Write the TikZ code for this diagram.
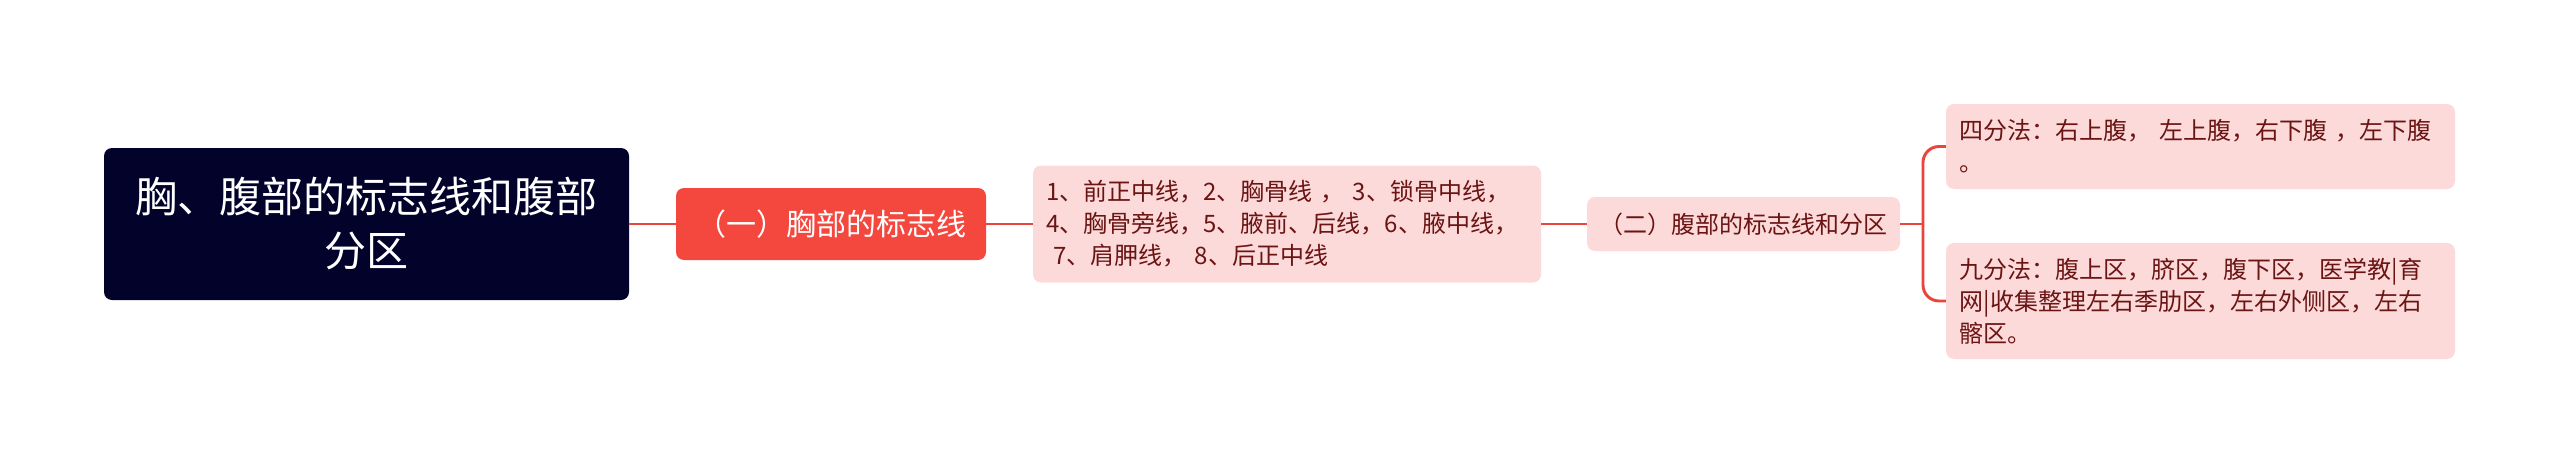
\documentclass[tikz,border=0pt]{standalone}
\usepackage{fontspec}
\setmainfont{Noto Sans CJK SC}
\usepackage{tikz}
\usetikzlibrary{positioning}
\definecolor{rootfill}{HTML}{03022B}
\definecolor{redfill}{HTML}{F4473E}
\definecolor{pinkfill}{HTML}{FDDADA}
\definecolor{linkred}{HTML}{E8453C}
\definecolor{leaftext}{HTML}{6B1414}
\tikzset{
  rootbox/.style={fill=rootfill, text=white, rounded corners=6pt, align=center,
    inner sep=0pt, font=\fontsize{31.5}{40.5}\selectfont},
  redbox/.style={fill=redfill, text=white, rounded corners=6pt, align=center,
    inner sep=0pt, font=\fontsize{22.5}{28}\selectfont},
  pinkbox/.style={fill=pinkfill, text=leaftext, rounded corners=6pt, align=left,
    inner sep=0pt, font=\fontsize{18}{24}\selectfont},
  link/.style={draw=linkred, line width=2.2pt}
}
\begin{document}
\begin{tikzpicture}[x=0.75pt, y=-0.75pt]
		\useasboundingbox (0,0) rectangle (2560,464);
		\node[rootbox, minimum width=393.75pt, minimum height=114pt] (root) at (366.5,224) {胸、腹部的标志线和腹部\\分区};
		\node[redbox, minimum width=232.5pt, minimum height=54pt] (chest) at (831,224) {（一）胸部的标志线};
		\node[pinkbox, minimum width=381pt, minimum height=87.75pt, text width=361pt] (lines) at (1287,224) {1、前正中线，2、胸骨线 ， 3、锁骨中线，\\4、胸骨旁线，5、腋前、后线，6、腋中线，\\\hspace*{0.3em}7、肩胛线， 8、后正中线};
		\node[pinkbox, align=center, minimum width=234.75pt, minimum height=40.5pt] (belly) at (1743.5,224) {（二）腹部的标志线和分区};
		\node[pinkbox, minimum width=381.75pt, minimum height=63.75pt, text width=361pt] (four) at (2200.5,146.5) {四分法：右上腹， 左上腹，右下腹 ，左下腹\\。};
		\node[pinkbox, minimum width=381.75pt, minimum height=87pt, text width=361pt] (nine) at (2200.5,301) {九分法：腹上区，脐区，腹下区，医学教|育\\网|收集整理左右季肋区，左右外侧区，左右\\髂区。};
		\coordinate (fork) at (1923,224);
		\draw[link] (root.east) -- (chest.west);
		\draw[link] (chest.east) -- (lines.west);
		\draw[link] (lines.east) -- (belly.west);
		\draw[link] (belly.east) -- (fork);
		\draw[link, rounded corners=12pt] (fork) |- (four.west);
		\draw[link, rounded corners=12pt] (fork) |- (nine.west);
	\end{tikzpicture}
\end{document}
